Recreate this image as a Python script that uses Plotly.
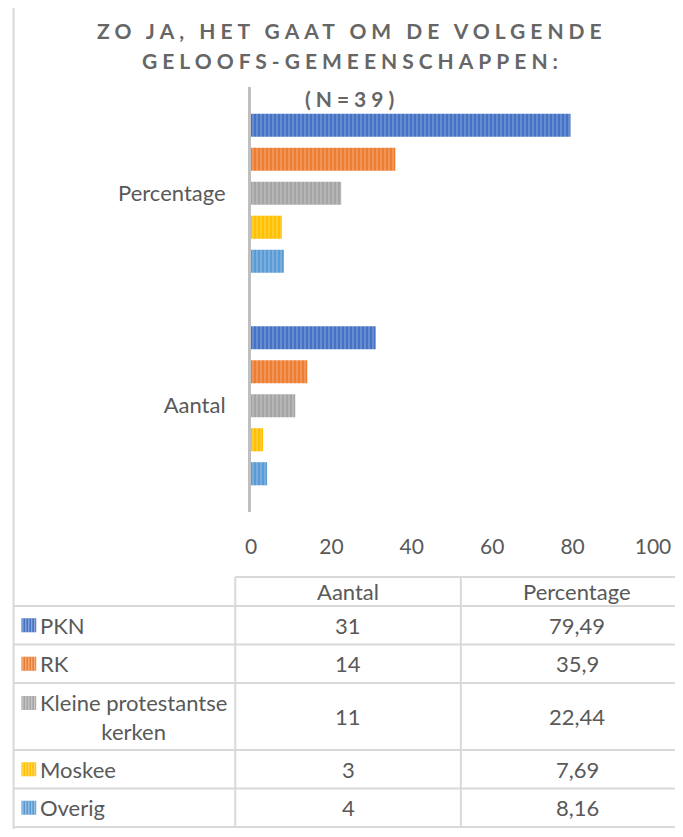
import textwrap
import plotly.graph_objects as go

# ---------------- data ----------------
categories = ["Aantal", "Percentage"]
series_names = ["PKN", "RK", "Kleine protestantse kerken", "Moskee", "Overig"]
aantal = [31, 14, 11, 3, 4]
percentage = [79.49, 35.9, 22.44, 7.69, 8.16]
x_ticks = [0, 20, 40, 60, 80, 100]
title_lines = ["ZO JA, HET GAAT OM DE VOLGENDE", "GELOOFS-GEMEENSCHAPPEN:", "(N=39)"]
table_header = ["Aantal", "Percentage"]

# ---------------- style ----------------
colors = ["#4472C4", "#ED7D31", "#A5A5A5", "#FFC000", "#5B9BD5"]
FONT = "Lato"
TXT = "#595959"
GRID = "#D9D9D9"
FS = 21
FS_T = 22

OFF = 8                      # page body margin of the html page
W, H = 683 - OFF, 837 - 2 * OFF
# plot area in page pixel coordinates
L, R, T, B = 251, 659, 87, 512


def px(x):
    return (x - L) / (R - L)


def py(y):
    return (B - y) / (B - T)


fig = go.Figure()
# reversed so that the first series sits at the top of each group
for i in reversed(range(len(series_names))):
    fig.add_trace(go.Bar(
        y=categories,
        x=[aantal[i], percentage[i]],
        orientation="h",
        name=series_names[i],
        showlegend=False,
        marker=dict(
            color=colors[i],
            line=dict(width=0),
            pattern=dict(shape="|", fillmode="overlay",
                         fgcolor="rgba(255,255,255,0.6)",
                         size=4, solidity=0.3),
        ),
    ))

annotations = []
shapes = []

# title
title_y = [30, 60.5, 98]
for line, ty in zip(title_lines, title_y):
    annotations.append(dict(
        text='<span style="letter-spacing:5px">' + line + "</span>",
        x=px(354), y=py(ty), xref="paper", yref="paper",
        xanchor="center", yanchor="middle", showarrow=False,
        font=dict(family=FONT, size=FS, color="#666666", weight="bold"),
    ))

# ---------------- data table ----------------
col_x = [10, 235, 464, 700]
header_top, header_bot = 577, 606
row_h1, row_h2 = 38.5, 67
line_w = 2

labels = [textwrap.wrap(n, 19) for n in series_names]
row_bounds = [header_bot]
for lab in labels:
    row_bounds.append(row_bounds[-1] + (row_h2 if len(lab) > 1 else row_h1))

# header
for j, htxt in enumerate(table_header):
    annotations.append(dict(
        text=htxt, x=px((col_x[j + 1] + col_x[j + 2]) / 2), y=py((header_top + header_bot) / 2),
        xref="paper", yref="paper", xanchor="center", yanchor="middle", showarrow=False,
        font=dict(family=FONT, size=FS_T, color=TXT)))


def hline(x0, x1, y):
    shapes.append(dict(type="line", xref="paper", yref="paper",
                       x0=px(x0), x1=px(x1), y0=py(y), y1=py(y),
                       line=dict(color=GRID, width=line_w)))


def vline(x, y0, y1):
    shapes.append(dict(type="line", xref="paper", yref="paper",
                       x0=px(x), x1=px(x), y0=py(y0), y1=py(y1),
                       line=dict(color=GRID, width=line_w)))


hline(col_x[1], col_x[3], header_top)
for yb in row_bounds:
    hline(col_x[0], col_x[3], yb)
vline(col_x[1], header_top, row_bounds[-1])
vline(col_x[2], header_top, row_bounds[-1])

for i, lab in enumerate(labels):
    y0, y1 = row_bounds[i], row_bounds[i + 1]
    yc = (y0 + y1) / 2
    first_line_y = yc if len(lab) == 1 else y0 + 20
    annotations.append(dict(
        text="<br>".join(lab), x=px(35), y=py(yc), xref="paper", yref="paper",
        xanchor="left", yanchor="middle", align="center", showarrow=False,
        font=dict(family=FONT, size=FS_T, color=TXT)))
    # legend key
    shapes.append(dict(type="rect", xref="paper", yref="paper",
                       x0=px(18), x1=px(33), y0=py(first_line_y - 7), y1=py(first_line_y + 7),
                       fillcolor=colors[i], line=dict(width=0)))
    for k in range(5):
        xs = 19.5 + 3 * k
        shapes.append(dict(type="line", xref="paper", yref="paper",
                           x0=px(xs), x1=px(xs), y0=py(first_line_y - 7), y1=py(first_line_y + 7),
                           line=dict(color="rgba(255,255,255,0.5)", width=1)))
    vals = [str(aantal[i]), str(percentage[i]).replace(".", ",")]
    for j, v in enumerate(vals):
        annotations.append(dict(
            text=v, x=px((col_x[j + 1] + col_x[j + 2]) / 2), y=py(yc),
            xref="paper", yref="paper", xanchor="center", yanchor="middle", showarrow=False,
            font=dict(family=FONT, size=FS_T, color=TXT)))

# outer chart border
shapes.append(dict(type="rect", xref="paper", yref="paper",
                   x0=px(10), x1=px(700), y0=py(6), y1=py(850),
                   line=dict(color=GRID, width=line_w), fillcolor="rgba(0,0,0,0)"))

fig.update_layout(
    width=W, height=H, autosize=False,
    margin=dict(l=L - OFF, r=W - (R - OFF), t=T - OFF, b=H - (B - OFF), pad=0),
    paper_bgcolor="white", plot_bgcolor="white",
    barmode="group", bargap=0.2, bargroupgap=0.32,
    font=dict(family=FONT, size=FS, color=TXT),
    xaxis=dict(range=[0, 100], tickvals=x_ticks, showgrid=False, zeroline=False,
               showline=False, ticks="outside", ticklen=16, tickcolor="rgba(0,0,0,0)",
               tickfont=dict(family=FONT, size=FS, color=TXT), fixedrange=True),
    yaxis=dict(range=[-0.5, 1.5], showgrid=False, zeroline=False,
               showline=True, linecolor="#BFBFBF", linewidth=3,
               ticks="outside", ticklen=18, tickcolor="rgba(0,0,0,0)",
               tickfont=dict(family=FONT, size=FS_T, color=TXT), fixedrange=True),
    annotations=annotations,
    shapes=shapes,
)

fig.write_html("out.html")
